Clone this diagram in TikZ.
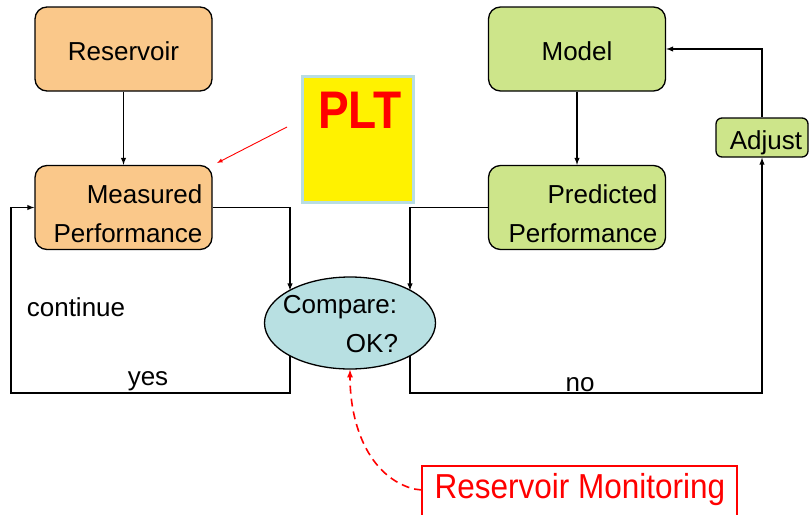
\documentclass[tikz,border=0pt]{standalone}
\usepackage{fontspec}
\usepackage{graphicx}
\setmainfont{Liberation Sans}
\usetikzlibrary{shapes.geometric,arrows}

\definecolor{resorange}{HTML}{FAC88A}
\definecolor{modgreen}{HTML}{CDE58A}
\definecolor{cmpblue}{HTML}{B8E0E2}
\definecolor{pltborder}{HTML}{B8DDE3}

\begin{document}
\begin{tikzpicture}[x=1pt,y=-1pt,>=latex]
    \tikzstyle{resbox}=[draw,line width=1.3pt,fill=resorange,rounded corners=12pt,minimum width=177pt,minimum height=84pt,inner sep=0pt,text height=22.5pt,text depth=0pt]
    \tikzstyle{modbox}=[resbox,fill=modgreen]
    \tikzstyle{flow}=[line width=1.4pt,->]
    \useasboundingbox (0,0) rectangle (810,514);
    \clip (0,0) rectangle (810,514);
    \fontsize{26}{39}\selectfont

    \node at (123.5,49) (reservoir) [resbox] {Reservoir};
    \node at (123.5,207.5) (measured) [resbox] {};
    \node at (128,213.5) (measuredtxt) [align=right] {Measured\\Performance};
    \node at (577,49) (model) [modbox] {Model};
    \node at (577,207.5) (predicted) [modbox] {};
    \node at (583,213.5) (predictedtxt) [align=right] {Predicted\\Performance};
    \node at (762,137.5) (adjust) [modbox, rounded corners=6pt, minimum width=92pt, minimum height=39pt, text height=23pt] {\hspace*{8pt}Adjust};

    \node at (350,323) (compare) [ellipse, draw, line width=1.3pt, fill=cmpblue, minimum width=171pt, minimum height=92pt, inner sep=0pt] {};
    \node at (340,307) (cmptxt) {Compare:};
    \node at (372,344) (oktxt) {OK?};

    \node at (357.5,139) (plt) [draw=pltborder, line width=3pt, fill=yellow, minimum width=111pt, minimum height=126pt] {};
    \node at (360,110) (plttxt) [text=red, font=\fontsize{46}{50}\selectfont\bfseries] {\scalebox{1}[1.15]{PLT}};
    \draw[red, line width=0.9pt, ->] (287,127) -- (217,163);

    \node at (579.5,465) (monitor) [draw=red, line width=1.6pt, minimum width=315pt, minimum height=66pt, anchor=north] {};
    \node at (580,490) (montxt) [text=red, font=\fontsize{31.5}{36}\selectfont] {\scalebox{1}[1.1]{Reservoir Monitoring}};

    % forward flow
    \draw[flow] (reservoir) -- (measured);
    \draw[flow] (model) -- (predicted);
    \draw[flow] (measured.east) -| (290,290.4);
    \draw[flow] (predicted.west) -| (410,290.4);

    % loops
    \draw[flow] (290,355.6) |- (11,393) |- (measured.west);
    \draw[flow] (410,355.6) |- (762,393) -- (adjust.south);
    \draw[flow] (adjust.north) |- (model.east);

    \node at (76,307) (continue) {continue};
    \node at (148,381) (yes) {yes};
    \node at (580,385) (no) {no};

    \draw[red, line width=1.6pt, dash pattern=on 8pt off 5pt, ->] (422,490) -- (414,489) .. controls (372,478) and (350,430) .. (compare.south);
\end{tikzpicture}
\end{document}
